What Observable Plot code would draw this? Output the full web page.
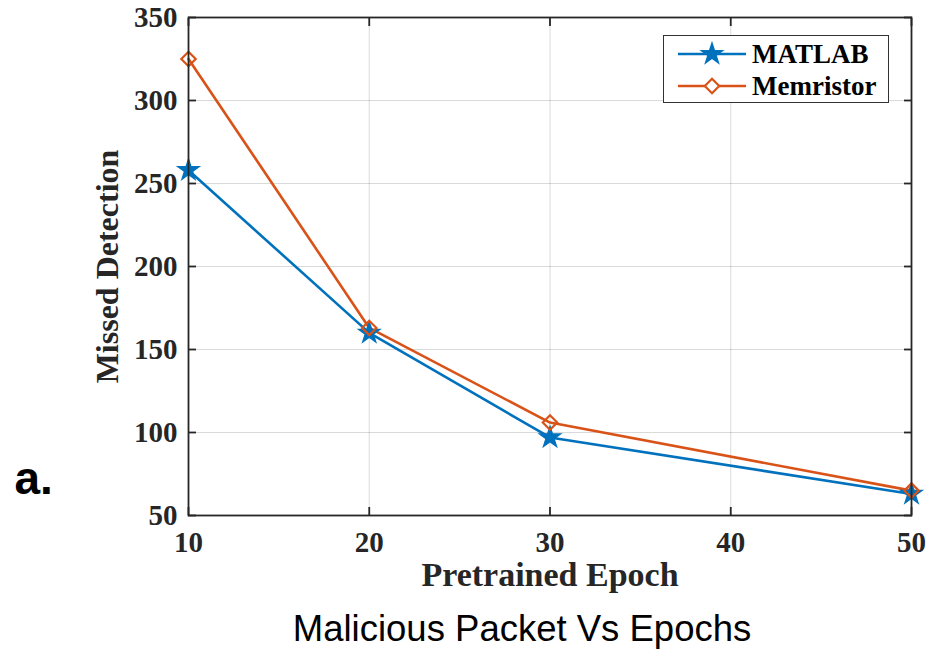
<!DOCTYPE html>
<html>
<head>
<meta charset="utf-8">
<script src="https://cdn.jsdelivr.net/npm/d3@7"></script>
<script src="https://cdn.jsdelivr.net/npm/@observablehq/plot@0.6"></script>
<style>
  html, body { margin: 0; padding: 0; background: #fff; }
  #wrap { position: relative; width: 930px; height: 651px; }
  #legend {
    position: absolute; left: 663px; top: 35px; width: 224px; height: 66px;
    border: 1.5px solid #333; background: #fff; box-sizing: content-box;
    font-family: "Liberation Serif", serif; font-weight: bold; font-size: 27px; color: #000;
  }
  .row { position: absolute; left: 0; height: 30px; display: flex; align-items: center; }
  .row svg { margin-left: 13px; }
  .row span { margin-left: 5px; }
</style>
</head>
<body>
<div id="wrap"></div>
<script>
const epochs = [10, 20, 30, 50];
const matlab = [258, 160, 97, 63];
const memristor = [325, 163, 106, 65];
const seriesNames = ["MATLAB", "Memristor"];
const seriesColors = ["#0072BD", "#D95319"];
const seriesSymbols = ["star", "diamond2"];
const xTicks = [10, 20, 30, 40, 50];
const yTicks = [50, 100, 150, 200, 250, 300, 350];
const xLabel = "Pretrained Epoch";
const yLabel = "Missed Detection";
const caption = "Malicious Packet Vs Epochs";
const panelTag = "a.";

const data = [
  ...epochs.map((e, i) => ({epoch: e, value: matlab[i], series: "MATLAB"})),
  ...epochs.map((e, i) => ({epoch: e, value: memristor[i], series: "Memristor"}))
];

const axisColor = "#262626";
const serif = "Liberation Serif, Times New Roman, serif";
const sans = "Liberation Sans, Arial, sans-serif";

const chart = Plot.plot({
  width: 930,
  height: 651,
  marginLeft: 188,
  marginRight: 19,
  marginTop: 17,
  marginBottom: 136,
  style: {fontFamily: serif, fontWeight: "bold", fontSize: "29px", color: axisColor, background: "#fff"},
  x: {domain: [10, 50]},
  y: {domain: [50, 350]},
  color: {domain: seriesNames, range: seriesColors},
  symbol: {domain: seriesNames, range: seriesSymbols},
  marks: [
    Plot.gridX(xTicks, {stroke: "#000", strokeOpacity: 0.15, strokeWidth: 1}),
    Plot.gridY(yTicks, {stroke: "#000", strokeOpacity: 0.15, strokeWidth: 1}),
    Plot.line(data, {x: "epoch", y: "value", stroke: "series", strokeWidth: 2.6}),
    Plot.dot(data.filter(d => d.series === "MATLAB"), {x: "epoch", y: "value", symbol: "series", stroke: "series", fill: "series", r: 6.5, strokeWidth: 1.5}),
    Plot.dot(data.filter(d => d.series === "Memristor"), {x: "epoch", y: "value", symbol: "series", stroke: "series", fill: "none", r: 6.5, strokeWidth: 2.2}),
    Plot.frame({stroke: axisColor, strokeWidth: 1.8}),
    // inward ticks on all four sides
    Plot.axisX(xTicks, {anchor: "bottom", tickSize: -8, tickFormat: () => "", label: null, stroke: axisColor, strokeWidth: 1.8}),
    Plot.axisX(xTicks, {anchor: "top", tickSize: -8, tickFormat: () => "", label: null, stroke: axisColor, strokeWidth: 1.8}),
    Plot.axisY(yTicks, {anchor: "left", tickSize: -8, tickFormat: () => "", label: null, stroke: axisColor, strokeWidth: 1.8}),
    Plot.axisY(yTicks, {anchor: "right", tickSize: -8, tickFormat: () => "", label: null, stroke: axisColor, strokeWidth: 1.8}),
    // tick labels
    Plot.axisX(xTicks, {anchor: "bottom", tickSize: 0, tickPadding: 16, label: null, fill: axisColor}),
    Plot.axisY(yTicks, {anchor: "left", tickSize: 0, tickPadding: 11, label: null, fill: axisColor}),
    // axis titles
    Plot.text([xLabel], {frameAnchor: "bottom", lineAnchor: "middle", textAnchor: "middle", dy: 60, fontSize: 34, fontWeight: "bold", fill: axisColor, fontFamily: serif}),
    Plot.text([yLabel], {frameAnchor: "left", lineAnchor: "middle", textAnchor: "middle", dx: -81, rotate: -90, fontSize: 32, fontWeight: "bold", fill: axisColor, fontFamily: serif}),
    // caption & panel tag
    Plot.text([caption], {frameAnchor: "bottom", lineAnchor: "middle", textAnchor: "middle", dx: -28, dy: 114, fontSize: 36.5, fontWeight: "normal", fill: "#000", fontFamily: sans}),
    Plot.text([panelTag], {frameAnchor: "bottom-left", lineAnchor: "middle", textAnchor: "start", dx: -174, dy: -36, fontSize: 46, fontWeight: "bold", fill: "#000", fontFamily: sans})
  ]
});

const wrap = document.getElementById("wrap");
wrap.appendChild(chart);

// legend
const legend = document.createElement("div");
legend.id = "legend";
seriesNames.forEach((name, i) => {
  const row = document.createElement("div");
  row.className = "row";
  row.style.top = (3 + i * 32) + "px";
  const svg = d3.create("svg").attr("width", 70).attr("height", 30);
  svg.append("line").attr("x1", 1).attr("x2", 69).attr("y1", 15).attr("y2", 15)
    .attr("stroke", seriesColors[i]).attr("stroke-width", 2.6);
  const sym = i === 0 ? d3.symbolStar : d3.symbolDiamond2;
  svg.append("path")
    .attr("d", d3.symbol(sym, i === 0 ? 133 : 132)())
    .attr("transform", "translate(35,15)")
    .attr("fill", i === 0 ? seriesColors[i] : "#fff")
    .attr("stroke", seriesColors[i])
    .attr("stroke-width", i === 0 ? 1.5 : 2.2);
  row.appendChild(svg.node());
  const span = document.createElement("span");
  span.textContent = name;
  row.appendChild(span);
  legend.appendChild(row);
});
wrap.appendChild(legend);
</script>
</body>
</html>
